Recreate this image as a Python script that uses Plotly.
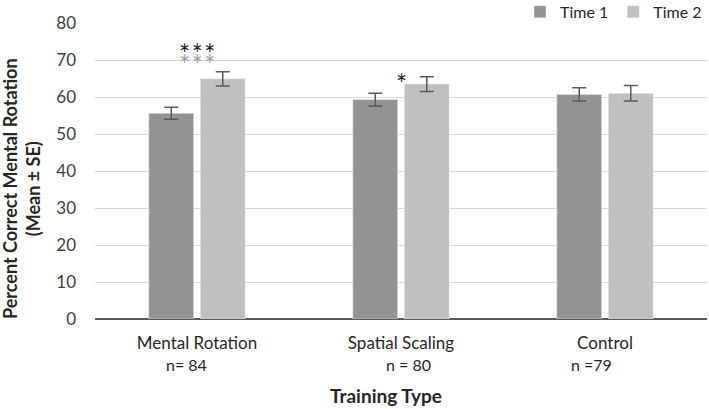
import plotly.graph_objects as go

categories = ["Mental Rotation", "Spatial Scaling", "Control"]
n_labels = ["n= 84", "n = 80", "n =79"]
time1 = [55.6, 59.3, 60.7]
time1_se = [1.6, 1.7, 1.8]
time2 = [64.9, 63.5, 61.0]
time2_se = [1.9, 2.0, 2.1]
stars = ["*\u200a*\u200a*", "*", ""]
star_y = [73.5, 65.5, 0]
y_ticks = [0, 10, 20, 30, 40, 50, 60, 70, 80]

FONT = "Lato"
ERR = "#5a5a5a"
TXT = "#262626"

fig = go.Figure()
fig.add_trace(go.Bar(
    name="Time 1", x=categories, y=time1, marker_color="#939393",
    error_y=dict(type="data", array=time1_se, color=ERR, thickness=1.5, width=7),
))
fig.add_trace(go.Bar(
    name="Time 2", x=categories, y=time2, marker_color="#c0c0c0",
    error_y=dict(type="data", array=time2_se, color=ERR, thickness=1.5, width=7),
))

n_shift = [-11, 7, -14]
for cat, lab, sh in zip(categories, n_labels, n_shift):
    fig.add_annotation(x=cat, y=0, xref="x", yref="y", text=lab, showarrow=False,
                       yanchor="middle", yshift=-45, xshift=sh,
                       font=dict(family=FONT, size=16, color=TXT))

for cat, s, sy in zip(categories, stars, star_y):
    if s:
        if len(s) > 1:
            fig.add_annotation(x=cat, y=sy, text=s, showarrow=False, yshift=-18,
                               font=dict(family=FONT, size=26, color="#a0a0a0"))
        fig.add_annotation(x=cat, y=sy, text=s, showarrow=False, yshift=-7,
                           font=dict(family=FONT, size=26, color="#1a1a1a"))

# axis titles
fig.add_annotation(xref="paper", yref="paper", x=(386 - 95) / 612, y=0,
                   xanchor="center", yanchor="middle", yshift=-76,
                   text="<b>Training Type</b>", showarrow=False,
                   font=dict(family=FONT, size=19, color=TXT))
fig.add_annotation(xref="paper", yref="paper", x=(22 - 95) / 612, y=(319 - 189) / 296,
                   xanchor="center", yanchor="middle",
                   text="<b>Percent Correct Mental Rotation<br>(Mean ± SE)</b>",
                   textangle=-90, showarrow=False,
                   font=dict(family=FONT, size=18, color=TXT))

fig.update_layout(
    width=709, height=409,
    margin=dict(l=95, r=2, t=23, b=90, autoexpand=False),
    paper_bgcolor="white", plot_bgcolor="white",
    barmode="group", bargap=0.495, bargroupgap=0.13,
    font=dict(family=FONT, size=15, color=TXT),
    legend=dict(orientation="h", x=1, xanchor="right", y=1.095, yanchor="top",
                font=dict(family=FONT, size=16, color=TXT),
                bgcolor="rgba(0,0,0,0)", traceorder="normal", itemwidth=30),
    xaxis=dict(automargin=False, ticklabelstandoff=12,
               tickfont=dict(family=FONT, size=17, color=TXT),
               showline=False, ticks=""),
    yaxis=dict(automargin=False, range=[0, 80], tickvals=y_ticks, showgrid=True,
               gridcolor="#d9d9d9", gridwidth=1, zeroline=True,
               zerolinecolor="#595959", zerolinewidth=2,
               ticks="", ticklabelstandoff=18,
               tickfont=dict(family=FONT, size=17, color="#404040")),
)

fig.write_html("out.html", config={"displayModeBar": False},
               post_script="document.body.style.margin='0';")
